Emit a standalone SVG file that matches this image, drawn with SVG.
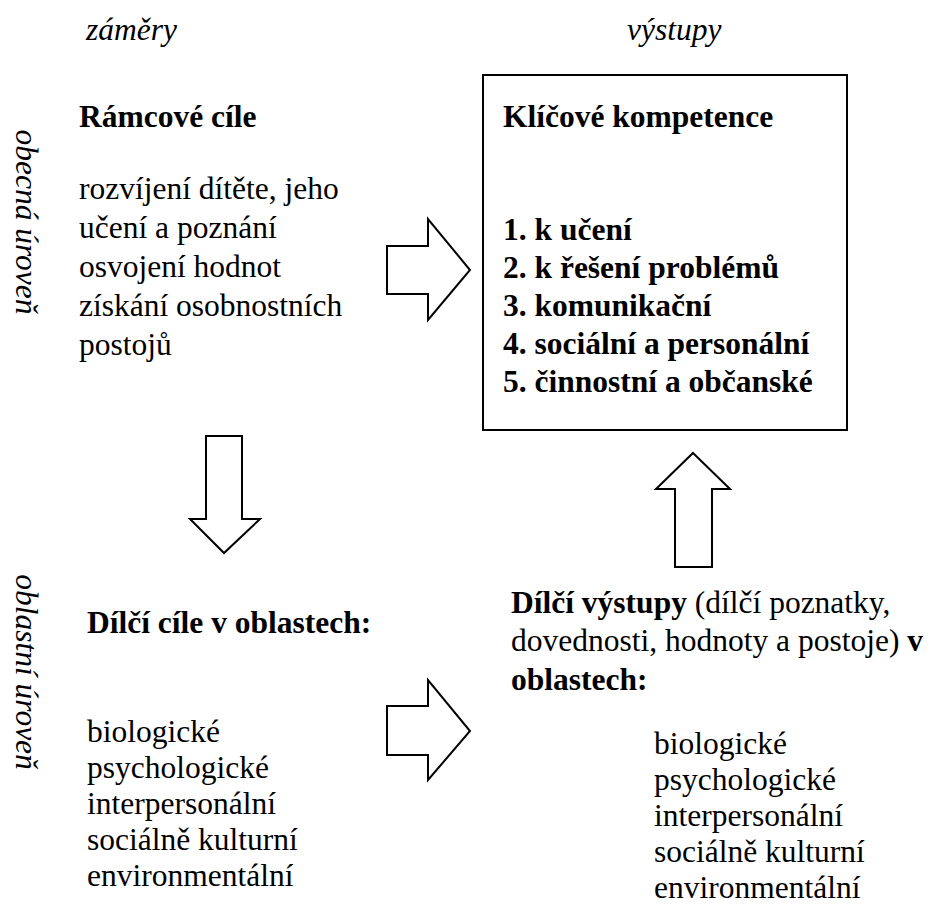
<svg xmlns="http://www.w3.org/2000/svg" width="931" height="908" viewBox="0 0 931 908">
<style>
text{font-family:"Liberation Serif","Tinos","Times New Roman","DejaVu Serif",serif;font-size:31.5px;fill:#000}
.b{font-weight:bold}
.i{font-style:italic}
.arrow{fill:#fff;stroke:#000;stroke-width:2;stroke-linejoin:miter}
.box{fill:#fff;stroke:#000;stroke-width:2}
</style>
<rect width="931" height="908" fill="#fff"/>
<g id="headers" font-family="Liberation Serif, Times New Roman, serif">
<text class="i" x="86" y="40">záměry</text>
<text class="i" x="627" y="40">výstupy</text>
</g>
<g id="levels" font-family="Liberation Serif, Times New Roman, serif">
<text class="i" transform="translate(16,222) rotate(90)" text-anchor="middle">obecná úroveň</text>
<text class="i" transform="translate(16,672) rotate(90)" text-anchor="middle">oblastní úroveň</text>
</g>
<g id="ramcove-cile" font-family="Liberation Serif, Times New Roman, serif">
<text class="b" x="79" y="127">Rámcové cíle</text>
<text x="79" y="199">rozvíjení dítěte, jeho</text>
<text x="79" y="238">učení a poznání</text>
<text x="79" y="277">osvojení hodnot</text>
<text x="79" y="316">získání osobnostních</text>
<text x="79" y="355">postojů</text>
</g>
<g id="klicove-kompetence" font-family="Liberation Serif, Times New Roman, serif">
<rect class="box" x="483" y="75" width="364" height="355"/>
<text class="b" x="503" y="127">Klíčové kompetence</text>
<text class="b" x="503" y="240">1. k učení</text>
<text class="b" x="503" y="278">2. k řešení problémů</text>
<text class="b" x="503" y="316">3. komunikační</text>
<text class="b" x="503" y="354">4. sociální a personální</text>
<text class="b" x="503" y="392">5. činnostní a občanské</text>
</g>
<g id="dilci-cile" font-family="Liberation Serif, Times New Roman, serif">
<text class="b" x="87" y="633">Dílčí cíle v oblastech:</text>
<text x="87" y="742">biologické</text>
<text x="87" y="778">psychologické</text>
<text x="87" y="814">interpersonální</text>
<text x="87" y="850">sociálně kulturní</text>
<text x="87" y="886">environmentální</text>
</g>
<g id="dilci-vystupy" font-family="Liberation Serif, Times New Roman, serif">
<text x="511" y="613"><tspan class="b">Dílčí výstupy</tspan> (dílčí poznatky,</text>
<text x="511" y="651">dovednosti, hodnoty a postoje) <tspan class="b">v</tspan></text>
<text class="b" x="511" y="690">oblastech:</text>
<text x="654" y="754">biologické</text>
<text x="654" y="790">psychologické</text>
<text x="654" y="826">interpersonální</text>
<text x="654" y="862">sociálně kulturní</text>
<text x="654" y="898">environmentální</text>
</g>
<g id="connectors">
<polygon class="arrow" points="387,246 428,246 428,219 470,270 428,320 428,294 387,294"/>
<polygon class="arrow" points="206,436 242,436 242,519 260,519 224,553 190,519 206,519"/>
<polygon class="arrow" points="693,453 730,489 712,489 712,567 675,567 675,489 656,489"/>
<polygon class="arrow" points="387,706 428,706 428,680 470,731 428,780 428,755 387,755"/>
</g>
</svg>
